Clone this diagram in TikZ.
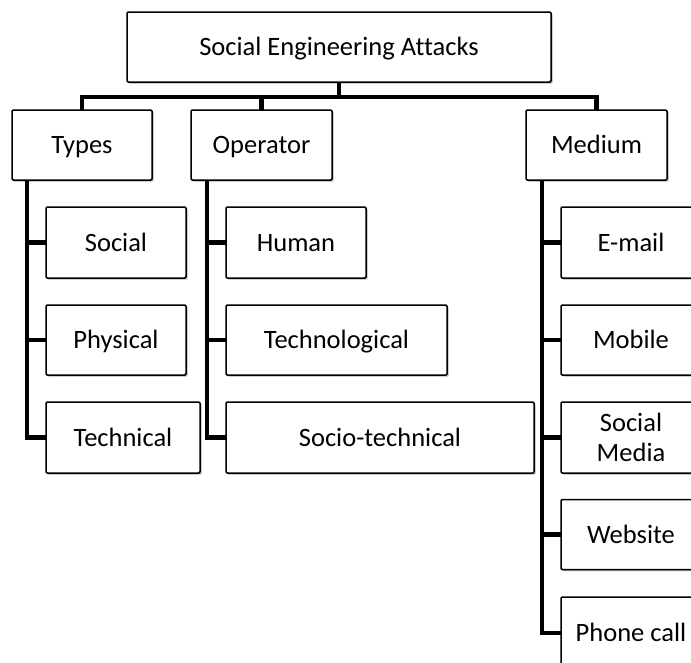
\documentclass[tikz,border=0pt]{standalone}
\usepackage{fontspec}
\setmainfont{Carlito}[Ligatures={NoCommon}]
\usetikzlibrary{shadows,backgrounds}
\tikzset{
  boxbase/.style={draw=black, line width=1.5pt, rounded corners=1.2pt, fill=white,
    inner sep=0pt, align=center,
    font=\fontsize{26.5}{29.5}\selectfont,
    drop shadow={shadow xshift=1.6pt, shadow yshift=-1.6pt, fill=black, opacity=0.3}},
  box/.style={boxbase, text height=17pt, text depth=0pt},
  conn/.style={draw=black, line width=4.4pt, line join=miter, line cap=rect},
}
\begin{document}
\begin{tikzpicture}[x=1pt, y=-1pt]
\useasboundingbox (0,0) rectangle (691,662);
\clip (0,0) rectangle (691,662);
% top level
\node[box, minimum width=424pt, minimum height=70pt] (top) at (339,47) {Social Engineering Attacks};
% second level
\node[box, minimum width=140pt, minimum height=70pt] (types) at (82,145) {Types};
\node[box, minimum width=141pt, minimum height=70pt] (operator) at (261.5,145) {Operator};
\node[box, minimum width=141pt, minimum height=70pt] (medium) at (596.5,145) {Medium};
% types children
\node[box, minimum width=140pt, minimum height=71pt] (social) at (116,242.5) {Social};
\node[box, minimum width=140pt, minimum height=70pt] (physical) at (116,340) {Physical};
\node[box, minimum width=154pt, minimum height=71pt] (technical) at (123,437.5) {Technical};
% operator children
\node[box, minimum width=140pt, minimum height=71pt] (human) at (296,242.5) {Human};
\node[box, minimum width=221pt, minimum height=70pt] (technological) at (336.5,340) {Technological};
\node[box, minimum width=308pt, minimum height=71pt] (sociotech) at (380,437.5) {Socio-technical};
% medium children
\node[box, minimum width=140pt, minimum height=71pt] (email) at (631,242.5) {E-mail};
\node[box, minimum width=140pt, minimum height=70pt] (mobile) at (631,340) {Mobile};
\node[boxbase, minimum width=140pt, minimum height=71pt] (socmedia) at (631,437.5) {Social\\Media};
\node[box, minimum width=140pt, minimum height=70pt] (website) at (631,534.5) {Website};
\node[box, minimum width=140pt, minimum height=72pt] (phone) at (631,633) {Phone call};
% helper coordinates
\coordinate (bus) at (0,97);
\coordinate (t1) at (27,0);
\coordinate (t2) at (207,0);
\coordinate (t3) at (542,0);
\begin{scope}[on background layer]
  \draw[conn] (top.south) -- (top.south |- bus);
  \draw[conn] (types.north) |- (medium.north |- bus) -- (medium.north);
  \draw[conn] (operator.north) -- (operator.north |- bus);
  % types
  \draw[conn] (types.south -| t1) |- (technical.west);
  \draw[conn] (social.west) -- (social.west -| t1);
  \draw[conn] (physical.west) -- (physical.west -| t1);
  % operator
  \draw[conn] (operator.south -| t2) |- (sociotech.west);
  \draw[conn] (human.west) -- (human.west -| t2);
  \draw[conn] (technological.west) -- (technological.west -| t2);
  % medium
  \draw[conn] (medium.south -| t3) |- (phone.west);
  \draw[conn] (email.west) -- (email.west -| t3);
  \draw[conn] (mobile.west) -- (mobile.west -| t3);
  \draw[conn] (socmedia.west) -- (socmedia.west -| t3);
  \draw[conn] (website.west) -- (website.west -| t3);
\end{scope}
\end{tikzpicture}
\end{document}
